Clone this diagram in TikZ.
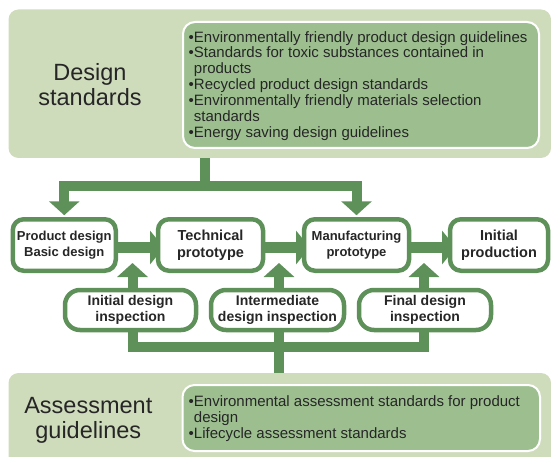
\documentclass[tikz,border=0pt]{standalone}
\usepackage{fontspec}
\setmainfont{Liberation Sans}
\usetikzlibrary{arrows.meta}
\definecolor{panelc}{HTML}{CFDCBC}
\definecolor{listc}{HTML}{9DBF90}
\definecolor{grc}{HTML}{5E9159}
\definecolor{txc}{HTML}{262626}
\pgfdeclarelayer{bg}
\pgfsetlayers{bg,main}
\begin{document}
\begin{tikzpicture}[x=1pt,y=-1pt,
  panel/.style={fill=panelc, rounded corners=10pt, inner sep=0pt, outer sep=0pt},
  listbox/.style={fill=listc, draw=white, line width=2pt, rounded corners=12pt, inner sep=0pt, outer sep=0pt},
  listtext/.style={font=\fontsize{15}{15.9}\selectfont, align=left, inner sep=0pt, text=txc, anchor=north west},
  biglabel/.style={font=\fontsize{23.5}{25}\selectfont, align=center, inner sep=0pt, text=txc},
  stage/.style={draw=grc, fill=white, line width=4.5pt, rounded corners=11pt, inner sep=1pt, outer sep=0pt,
    align=center, text=txc, minimum height=51.5pt},
  check/.style={draw=grc, fill=white, line width=4.5pt, rounded corners=15pt, inner sep=1pt, outer sep=0pt,
    align=center, text=txc, minimum height=40pt, font=\bfseries\fontsize{14}{16}\selectfont},
  conn/.style={draw=grc, line width=10pt, line join=miter},
  vtip/.style={-{Triangle[width=30pt,length=14pt]}},
  htip/.style={-{Triangle[width=33pt,length=14pt]}}]
\useasboundingbox (0,0) rectangle (551,457);
\clip (0,0) rectangle (551,457);

% Top panel
\node[panel, minimum width=542.5pt, minimum height=148.5pt] (ds) at (279.75,83.75) {};
\node[listbox, minimum width=356pt, minimum height=126pt] (dsbox) at (361,85) {};
\node[listtext] (dstext) at (188.5,31) {•Environmentally friendly product design guidelines\\•Standards for toxic substances contained in\\\phantom{•}products\\•Recycled product design standards\\•Environmentally friendly materials selection\\\phantom{•}standards\\•Energy saving design guidelines};
\node[biglabel] (dslab) at (90,85) {Design\\standards};

% Bottom panel
\node[panel, minimum width=542.5pt, minimum height=97pt] (ag) at (279.75,421.5) {};
\node[listbox, minimum width=357.5pt, minimum height=66pt] (agbox) at (361.25,418) {};
\node[listtext, font=\fontsize{15}{16}\selectfont] (agtext) at (188.5,395.7) {•Environmental assessment standards for product\\\phantom{•}design\\•Lifecycle assessment standards};
\node[biglabel] (aglab) at (88.3,420) {Assessment\\guidelines};

% Stage boxes
\node[stage, minimum width=103pt, font=\bfseries\fontsize{13}{16}\selectfont] (b1) at (64.25,245) {Product design\\Basic design};
\node[stage, minimum width=105pt, font=\bfseries\fontsize{14.5}{17}\selectfont] (b2) at (210.5,245) {Technical\\prototype};
\node[stage, minimum width=105pt, font=\bfseries\fontsize{13}{16.5}\selectfont] (b3) at (356.5,245) {Manufacturing\\prototype};
\node[stage, minimum width=98pt, font=\bfseries\fontsize{14.5}{17}\selectfont] (b4) at (499,245) {Initial\\production};

% Inspection boxes
\node[check, minimum width=131pt] (i1) at (130.5,310) {Initial design\\inspection};
\node[check, minimum width=133pt] (i2) at (277.5,310) {Intermediate\\design inspection};
\node[check, minimum width=132pt] (i3) at (425,310) {Final design\\inspection};

% Connector coordinates
\coordinate (ts) at (205,158);
\coordinate (tj) at (205,186.5);
\coordinate (bs) at (279,373);
\coordinate (bj) at (279,347);
\coordinate (t1) at (132.5,263);
\coordinate (t2) at (279,263);
\coordinate (t3) at (424,263);

\begin{pgfonlayer}{bg}
  \draw[conn, vtip] (ts) -- (tj) -| ([yshift=4pt]b1.north);
  \draw[conn, vtip] (ts) -- (tj) -| ([yshift=4pt]b3.north);
  \draw[conn, line width=11pt, htip] ([yshift=-2.5pt]b1.east) -- ([xshift=6pt,yshift=-2.5pt]b2.west);
  \draw[conn, line width=11pt, htip] ([yshift=-2.5pt]b2.east) -- ([xshift=6pt,yshift=-2.5pt]b3.west);
  \draw[conn, line width=11pt, htip] ([yshift=-2.5pt]b3.east) -- ([xshift=6pt,yshift=-2.5pt]b4.west);
  \draw[conn, vtip] (bs) -- (bj) -| (t1);
  \draw[conn, vtip] (bs) -- (t2);
  \draw[conn, vtip] (bs) -- (bj) -| (t3);
\end{pgfonlayer}
\end{tikzpicture}
\end{document}
